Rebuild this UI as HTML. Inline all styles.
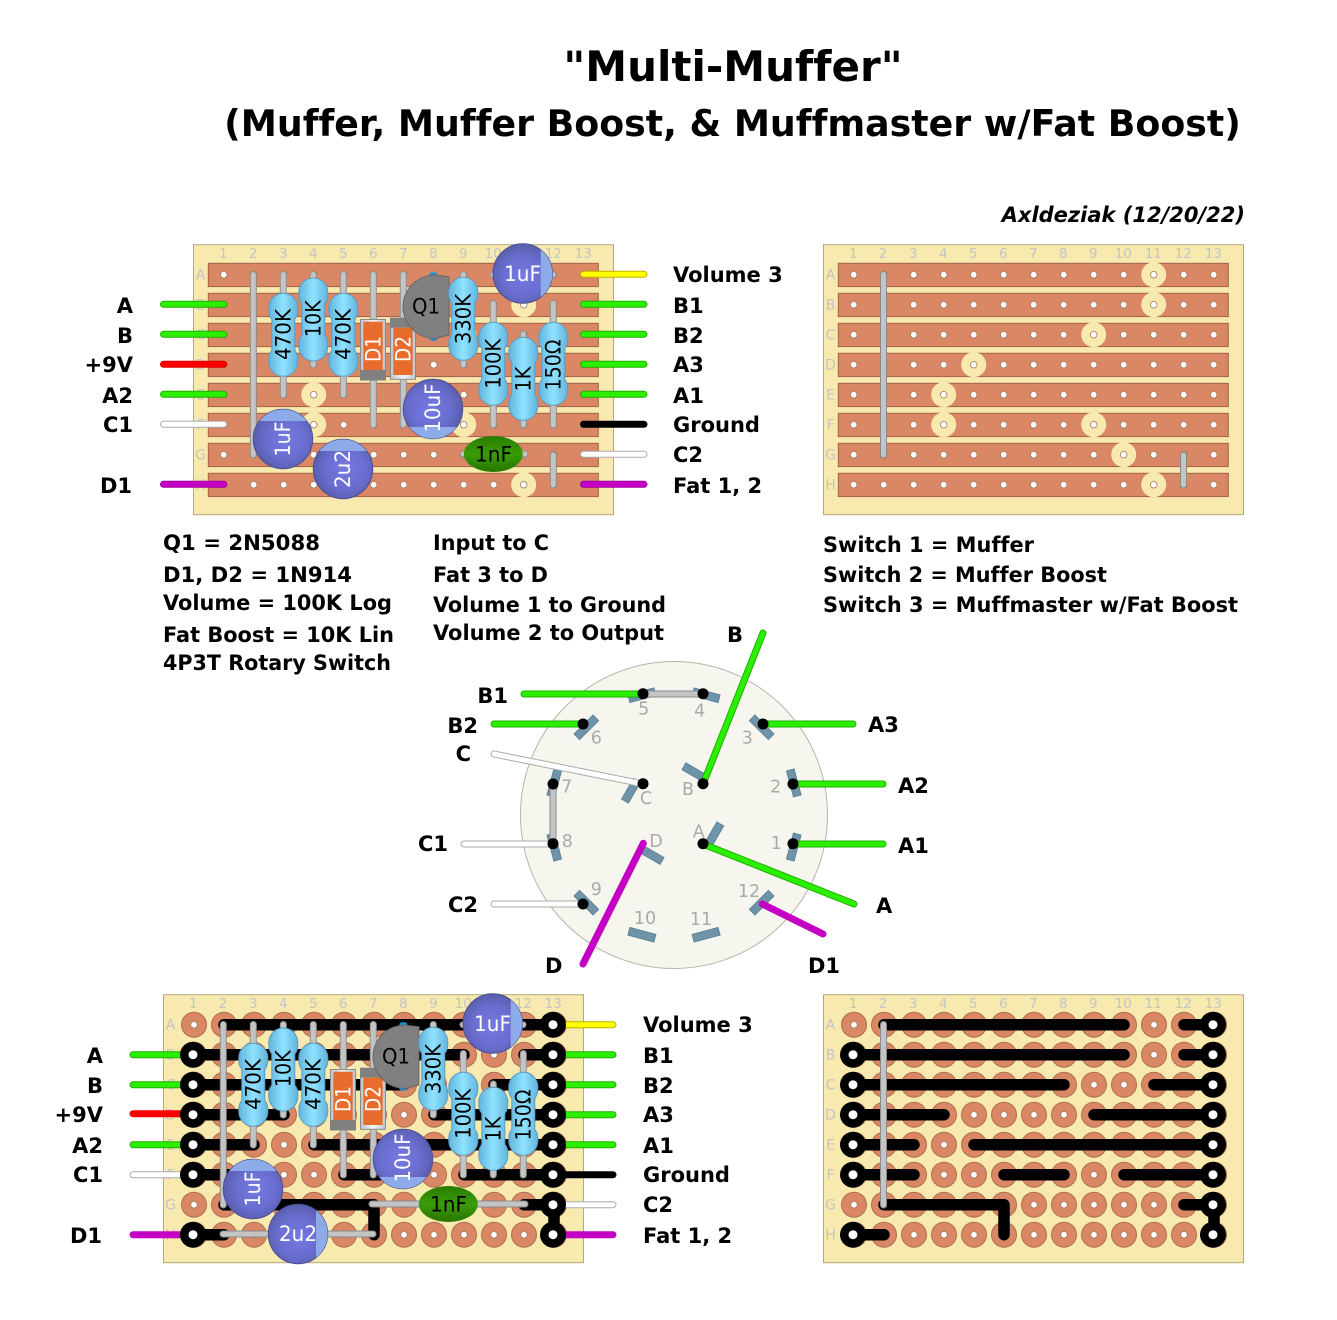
<!DOCTYPE html>
<html><head><meta charset="utf-8"><title>Multi-Muffer</title>
<style>
html,body{margin:0;padding:0;background:#fff}
svg{display:block}
text{font-family:"DejaVu Sans","Liberation Sans",sans-serif;font-variant-ligatures:none;font-feature-settings:"liga" 0,"clig" 0}
.b{font-weight:bold;font-size:21px;fill:#000}
.n{font-size:13.5px;fill:#c4c4c4}
.nr{font-size:14px;fill:#c4c4c4;text-anchor:middle}
.r{font-size:21px;fill:#000;text-anchor:middle}
.w{font-size:21px;fill:#fff;text-anchor:middle}
.s{font-size:17.5px;fill:#aaa;text-anchor:middle}
.e{text-anchor:end}
</style></head><body>
<svg width="1337" height="1320" viewBox="0 0 1337 1320">
<defs>
<linearGradient id="gr" x1="0" x2="1" y1="0" y2="0"><stop offset="0" stop-color="#62b4dc"/><stop offset=".5" stop-color="#90e2ff"/><stop offset="1" stop-color="#62b4dc"/></linearGradient>
<radialGradient id="gc" cx=".5" cy=".55" r=".55"><stop offset="0" stop-color="#7579e2"/><stop offset=".6" stop-color="#6a6ed0"/><stop offset="1" stop-color="#5a5eae"/></radialGradient>
<linearGradient id="gn" x1="0" x2="0" y1="0" y2="1"><stop offset="0" stop-color="#2a7c00"/><stop offset=".5" stop-color="#3a9c08"/><stop offset="1" stop-color="#287400"/></linearGradient>
<linearGradient id="gd" x1="0" x2="1" y1="0" y2="0"><stop offset="0" stop-color="#bcc4d0"/><stop offset=".5" stop-color="#f4f6f8"/><stop offset="1" stop-color="#bcc4d0"/></linearGradient>
<path id="res" d="M-11.5,26C-14.5,22-14.5,20-14.5,14.5A14.5,14.5 0 0 1 14.5,14.5C14.5,20 14.5,22 11.5,26L11.5,57C14.5,61 14.5,63 14.5,68.5A14.5,14.5 0 0 1-14.5,68.5C-14.5,63-14.5,61-11.5,57Z" fill="url(#gr)" stroke="#5b9cc4" stroke-width="1"/>
<g id="cap"><circle r="29.7" fill="url(#gc)" stroke="#4d4f92" stroke-width="1"/><path d="M18,-23.6A29.7,29.7 0 0 1 18,23.6Z" fill="#8cabe8"/></g>
<g id="hrow"><circle cx="0" r="3.3" /><circle cx="30" r="3.3"/><circle cx="60" r="3.3"/><circle cx="90" r="3.3"/><circle cx="120" r="3.3"/><circle cx="150" r="3.3"/><circle cx="180" r="3.3"/><circle cx="210" r="3.3"/><circle cx="240" r="3.3"/><circle cx="270" r="3.3"/><circle cx="300" r="3.3"/><circle cx="330" r="3.3"/><circle cx="360" r="3.3"/></g>
<g id="holes" fill="#fff" stroke="#a27a64" stroke-width=".8"><use href="#hrow"/><use href="#hrow" y="30"/><use href="#hrow" y="60"/><use href="#hrow" y="90"/><use href="#hrow" y="120"/><use href="#hrow" y="150"/><use href="#hrow" y="180"/><use href="#hrow" y="210"/></g>
<g id="ringrow"><circle cx="0" r="12.5"/><circle cx="30" r="12.5"/><circle cx="60" r="12.5"/><circle cx="90" r="12.5"/><circle cx="120" r="12.5"/><circle cx="150" r="12.5"/><circle cx="180" r="12.5"/><circle cx="210" r="12.5"/><circle cx="240" r="12.5"/><circle cx="270" r="12.5"/><circle cx="300" r="12.5"/><circle cx="330" r="12.5"/><circle cx="360" r="12.5"/></g>
<g id="rings" fill="#d98764" stroke="#ae6f52" stroke-width="1"><use href="#ringrow"/><use href="#ringrow" y="30"/><use href="#ringrow" y="60"/><use href="#ringrow" y="90"/><use href="#ringrow" y="120"/><use href="#ringrow" y="150"/><use href="#ringrow" y="180"/><use href="#ringrow" y="210"/></g>
<g id="strips" fill="#d98764" stroke="#a4634a" stroke-width="1"><rect x="-15.4" y="-11.4" width="390" height="23.3"/><rect x="-15.4" y="18.6" width="390" height="23.3"/><rect x="-15.4" y="48.6" width="390" height="23.3"/><rect x="-15.4" y="78.6" width="390" height="23.3"/><rect x="-15.4" y="108.6" width="390" height="23.3"/><rect x="-15.4" y="138.6" width="390" height="23.3"/><rect x="-15.4" y="168.6" width="390" height="23.3"/><rect x="-15.4" y="198.6" width="390" height="23.3"/></g>
<g id="cuts"><circle cx="300" cy="0" r="12.5"/><circle cx="300" cy="30" r="12.5"/><circle cx="240" cy="60" r="12.5"/><circle cx="120" cy="90" r="12.5"/><circle cx="90" cy="120" r="12.5"/><circle cx="90" cy="150" r="12.5"/><circle cx="240" cy="150" r="12.5"/><circle cx="270" cy="180" r="12.5"/><circle cx="300" cy="210" r="12.5"/></g>
<path id="tr" fill="none" stroke="#000" stroke-width="11.5" stroke-linecap="round" stroke-linejoin="round" d="M30,0H270M330,0H360M0,30H270M330,30H360M0,60H210M300,60H360M0,90H90M240,90H360M0,120H60M120,120H360M0,150H60M150,150H210M270,150H360M330,180H360V210M0,210H30"/>
<g id="term" fill="#000"><circle cx="-1" cy="30" r="13"/><circle cx="-1" cy="60" r="13"/><circle cx="-1" cy="90" r="13"/><circle cx="-1" cy="120" r="13"/><circle cx="-1" cy="150" r="13"/><circle cx="-1" cy="210" r="13"/><circle cx="359" cy="0" r="13"/><circle cx="359" cy="30" r="13"/><circle cx="359" cy="60" r="13"/><circle cx="359" cy="90" r="13"/><circle cx="359" cy="120" r="13"/><circle cx="359" cy="150" r="13"/><circle cx="359" cy="180" r="13"/><circle cx="359" cy="210" r="13"/>
<g fill="#fff"><circle cx="-1" cy="30" r="4.5"/><circle cx="-1" cy="60" r="4.5"/><circle cx="-1" cy="90" r="4.5"/><circle cx="-1" cy="120" r="4.5"/><circle cx="-1" cy="150" r="4.5"/><circle cx="-1" cy="210" r="4.5"/><circle cx="359" cy="0" r="4.5"/><circle cx="359" cy="30" r="4.5"/><circle cx="359" cy="60" r="4.5"/><circle cx="359" cy="90" r="4.5"/><circle cx="359" cy="120" r="4.5"/><circle cx="359" cy="150" r="4.5"/><circle cx="359" cy="180" r="4.5"/><circle cx="359" cy="210" r="4.5"/></g></g>
<path id="leads" fill="none" d="M283.3,274.5V395M313.3,274.5V365M343.3,274.5V395M373.3,274.5V425M403.3,274.5V425M463.3,274.5V365M493.3,303.5V425M523.3,334V425M553.3,303.5V425M493,274.7H553"/>
<g id="parts">
<g fill="none" stroke-linecap="round"><use href="#leads" stroke="#8f8f8f" stroke-width="7"/><use href="#leads" stroke="#c4c4c4" stroke-width="5"/></g>
<use href="#res" x="283.3" y="293.3"/><use href="#res" x="313.3" y="278"/><use href="#res" x="343.3" y="293.3"/>
<rect x="360.5" y="319.5" width="25" height="60.5" fill="url(#gd)" stroke="#8a8a8a"/><rect x="363.3" y="321.7" width="19.4" height="48.3" fill="#e86d2c"/><rect x="360" y="370" width="26" height="10.5" fill="#808080"/>
<rect x="390.5" y="318.5" width="25" height="60.8" fill="url(#gd)" stroke="#8a8a8a"/><rect x="390" y="317.7" width="26" height="10" fill="#808080"/><rect x="393.3" y="327.7" width="19.4" height="47.3" fill="#e86d2c"/>
<ellipse cx="433.3" cy="274.5" rx="4" ry="2.4" fill="#2090c8"/><ellipse cx="433.3" cy="338.6" rx="4" ry="2.4" fill="#2090c8"/>
<path d="M449,276.7L437,275.4A31.5,31.5 0 1 0 437,338.2L449,335Z" fill="#808080" stroke="#666" stroke-width="1"/>
<use href="#res" x="463.3" y="277.3"/><use href="#res" x="493.3" y="322.3"/><use href="#res" x="523.3" y="337.3"/><use href="#res" x="553.3" y="322.3"/>
<g transform="translate(522.7,273.5)"><use href="#cap"/></g>
<g transform="translate(433,409) rotate(90)"><use href="#cap"/></g>
<g transform="translate(283,439) rotate(-90)"><use href="#cap"/></g>
</g>
<g id="gnums"><text class="n" x="223.3" y="258" text-anchor="middle">1</text><text class="n" x="253" y="258" text-anchor="middle">2</text><text class="n" x="283.3" y="258" text-anchor="middle">3</text><text class="n" x="313.3" y="258" text-anchor="middle">4</text><text class="n" x="343.3" y="258" text-anchor="middle">5</text><text class="n" x="373.3" y="258" text-anchor="middle">6</text><text class="n" x="403.3" y="258" text-anchor="middle">7</text><text class="n" x="433.3" y="258" text-anchor="middle">8</text><text class="n" x="463.3" y="258" text-anchor="middle">9</text><text class="n" x="493.3" y="258" text-anchor="middle">10</text><text class="n" x="523.3" y="258" text-anchor="middle">11</text><text class="n" x="553.3" y="258" text-anchor="middle">12</text><text class="n" x="583.3" y="258" text-anchor="middle">13</text>
<text class="nr" x="200.5" y="279.5">A</text><text class="nr" x="200.5" y="309.5">B</text><text class="nr" x="200.5" y="339.5">C</text><text class="nr" x="200.5" y="369.5">D</text><text class="nr" x="200.5" y="399.5">E</text><text class="nr" x="200.5" y="429.5">F</text><text class="nr" x="200.5" y="459.5">G</text><text class="nr" x="200.5" y="489.5">H</text></g>
</defs>
<rect width="1337" height="1320" fill="#fff"/>

<!-- titles -->
<text x="733" y="81" text-anchor="middle" font-weight="bold" font-size="42">"Multi-Muffer"</text>
<text x="732.5" y="136" text-anchor="middle" font-weight="bold" font-size="36.3">(Muffer, Muffer Boost, &amp; Muffmaster w/Fat Boost)</text>
<text x="1245" y="222" text-anchor="end" font-weight="bold" font-style="italic" font-size="21">Axldeziak (12/20/22)</text>

<!-- TOP LEFT -->
<rect x="193.5" y="244.7" width="420" height="270" fill="#f8e9ae" stroke="#b3a97a" stroke-width="1"/>
<use href="#gnums"/>
<g transform="translate(223.7,274.7)"><use href="#strips"/><use href="#cuts" fill="#f8e9ae"/><use href="#holes"/></g>
<g fill="none" stroke-linecap="round">
<path stroke="#1fb000" stroke-width="7" d="M163.5,304.3H223.8M163.5,334.3H223.8M163.5,394.3H223.8M583.5,304.3H644M583.5,334.3H644M583.5,364.3H644M583.5,394.3H644"/>
<path stroke="#2af000" stroke-width="5" d="M163.5,304.3H223.8M163.5,334.3H223.8M163.5,394.3H223.8M583.5,304.3H644M583.5,334.3H644M583.5,364.3H644M583.5,394.3H644"/>
<path stroke="#e00000" stroke-width="7" d="M163.5,364.3H223.8"/><path stroke="#f00" stroke-width="5" d="M163.5,364.3H223.8"/>
<path stroke="#aaa" stroke-width="7" d="M163.5,424.3H223.8M583.5,454.3H644"/><path stroke="#fff" stroke-width="5" d="M163.5,424.3H223.8M583.5,454.3H644"/>
<path stroke="#a000a0" stroke-width="7" d="M163.5,484.3H223.8M583.5,484.3H644"/><path stroke="#c400c4" stroke-width="5" d="M163.5,484.3H223.8M583.5,484.3H644"/>
<path stroke="#c0b000" stroke-width="7" d="M583.5,274.3H644"/><path stroke="#ff0" stroke-width="5" d="M583.5,274.3H644"/>
<path stroke="#000" stroke-width="7" d="M583.5,424.3H644"/>
<path stroke="#8a8a8a" stroke-width="7" d="M253.3,274.5V455M553.3,455V485M463,454H525"/>
<path stroke="#c4c4c4" stroke-width="5" d="M253.3,274.5V455M553.3,455V485M463,454H525"/>
</g>
<use href="#parts"/>
<g transform="translate(343,469) rotate(-90)"><use href="#cap"/></g>
<ellipse cx="493.3" cy="454" rx="29.5" ry="18" fill="url(#gn)"/>
<text class="r" transform="translate(283.3,334.5) rotate(-90)" dy="7" textLength="51" lengthAdjust="spacingAndGlyphs">470K</text>
<text class="r" transform="translate(313.3,318.7) rotate(-90)" dy="7" textLength="37" lengthAdjust="spacingAndGlyphs">10K</text>
<text class="r" transform="translate(343.3,334.5) rotate(-90)" dy="7" textLength="51" lengthAdjust="spacingAndGlyphs">470K</text>
<text class="w" transform="translate(373.3,349) rotate(-90)" dy="7" textLength="26" lengthAdjust="spacingAndGlyphs">D1</text>
<text class="w" transform="translate(403.3,349) rotate(-90)" dy="7" textLength="26" lengthAdjust="spacingAndGlyphs">D2</text>
<text class="r" x="426" y="313.3" textLength="28" lengthAdjust="spacingAndGlyphs">Q1</text>
<text class="r" transform="translate(463.3,319) rotate(-90)" dy="7" textLength="50" lengthAdjust="spacingAndGlyphs">330K</text>
<text class="r" transform="translate(493.3,363.8) rotate(-90)" dy="7" textLength="50" lengthAdjust="spacingAndGlyphs">100K</text>
<text class="r" transform="translate(523.3,379) rotate(-90)" dy="7" textLength="25" lengthAdjust="spacingAndGlyphs">1K</text>
<text class="r" transform="translate(553.3,365) rotate(-90)" dy="7" textLength="51" lengthAdjust="spacingAndGlyphs">150Ω</text>
<text class="w" x="522.5" y="281" textLength="37" lengthAdjust="spacingAndGlyphs">1uF</text>
<text class="w" transform="translate(433,408) rotate(-90)" dy="7" textLength="49" lengthAdjust="spacingAndGlyphs">10uF</text>
<text class="w" transform="translate(283,439) rotate(-90)" dy="7" textLength="35" lengthAdjust="spacingAndGlyphs">1uF</text>
<text class="w" transform="translate(343,469) rotate(-90)" dy="7" textLength="38" lengthAdjust="spacingAndGlyphs">2u2</text>
<text class="r" x="493.5" y="461.5" textLength="37" lengthAdjust="spacingAndGlyphs">1nF</text>

<g class="lab">
<text class="b e" x="133" y="313">A</text><text class="b e" x="133" y="343">B</text><text class="b e" x="133" y="372">+9V</text><text class="b e" x="133" y="403">A2</text><text class="b e" x="133" y="432">C1</text><text class="b e" x="132" y="493">D1</text>
<text class="b" x="673" y="282">Volume 3</text><text class="b" x="673" y="313">B1</text><text class="b" x="673" y="343">B2</text><text class="b" x="673" y="372">A3</text><text class="b" x="673" y="403">A1</text><text class="b" x="673" y="432">Ground</text><text class="b" x="673" y="462">C2</text><text class="b" x="673" y="493">Fat 1, 2</text>
</g>

<!-- TOP RIGHT -->
<rect x="823.5" y="244.7" width="420" height="270" fill="#f8e9ae" stroke="#b3a97a" stroke-width="1"/>
<g transform="translate(630,0)"><use href="#gnums"/></g>
<g transform="translate(853.7,274.7)"><use href="#strips"/><use href="#cuts" fill="#f8e9ae"/><use href="#holes"/></g>
<g fill="none" stroke-linecap="round"><path stroke="#8a8a8a" stroke-width="7" d="M883.5,274.5V455M1183.5,455V485"/><path stroke="#c4c4c4" stroke-width="5" d="M883.5,274.5V455M1183.5,455V485"/></g>

<!-- notes -->
<text class="b" x="163" y="550" textLength="157" lengthAdjust="spacingAndGlyphs">Q1 = 2N5088</text><text class="b" x="163" y="582" textLength="189" lengthAdjust="spacingAndGlyphs">D1, D2 = 1N914</text><text class="b" x="163" y="610" textLength="229" lengthAdjust="spacingAndGlyphs">Volume = 100K Log</text><text class="b" x="163" y="642" textLength="231" lengthAdjust="spacingAndGlyphs">Fat Boost = 10K Lin</text><text class="b" x="163" y="670" textLength="228" lengthAdjust="spacingAndGlyphs">4P3T Rotary Switch</text>
<text class="b" x="433" y="550" textLength="116" lengthAdjust="spacingAndGlyphs">Input to C</text><text class="b" x="433" y="582" textLength="115" lengthAdjust="spacingAndGlyphs">Fat 3 to D</text><text class="b" x="433" y="612" textLength="233" lengthAdjust="spacingAndGlyphs">Volume 1 to Ground</text><text class="b" x="433" y="640" textLength="231" lengthAdjust="spacingAndGlyphs">Volume 2 to Output</text>
<text class="b" x="823" y="552" textLength="211" lengthAdjust="spacingAndGlyphs">Switch 1 = Muffer</text><text class="b" x="823" y="582" textLength="284" lengthAdjust="spacingAndGlyphs">Switch 2 = Muffer Boost</text><text class="b" x="823" y="612" textLength="415" lengthAdjust="spacingAndGlyphs">Switch 3 = Muffmaster w/Fat Boost</text>

<!-- ROTARY -->
<circle cx="674" cy="815" r="153.5" fill="#f6f5ee" stroke="#b5b5a8" stroke-width="1"/>
<g fill="#6f94a9" stroke="#557f96" stroke-width=".8" transform="translate(674,815)">
<rect transform="rotate(15) translate(124,0)" x="-4" y="-13.5" width="8" height="27"/><rect transform="rotate(-15) translate(124,0)" x="-4" y="-13.5" width="8" height="27"/><rect transform="rotate(-45) translate(124,0)" x="-4" y="-13.5" width="8" height="27"/><rect transform="rotate(-75) translate(124,0)" x="-4" y="-13.5" width="8" height="27"/><rect transform="rotate(-105) translate(124,0)" x="-4" y="-13.5" width="8" height="27"/><rect transform="rotate(-135) translate(124,0)" x="-4" y="-13.5" width="8" height="27"/><rect transform="rotate(-165) translate(124,0)" x="-4" y="-13.5" width="8" height="27"/><rect transform="rotate(165) translate(124,0)" x="-4" y="-13.5" width="8" height="27"/><rect transform="rotate(135) translate(124,0)" x="-4" y="-13.5" width="8" height="27"/><rect transform="rotate(105) translate(124,0)" x="-4" y="-13.5" width="8" height="27"/><rect transform="rotate(75) translate(124,0)" x="-4" y="-13.5" width="8" height="27"/><rect transform="rotate(45) translate(124,0)" x="-4" y="-13.5" width="8" height="27"/>
<rect transform="translate(40.3,19.3) rotate(30)" x="-4" y="-12" width="8" height="24"/><rect transform="translate(20.3,-42.7) rotate(30)" x="-12" y="-4" width="24" height="8"/><rect transform="translate(-43,-24.3) rotate(30)" x="-4" y="-12" width="8" height="24"/><rect transform="translate(-22.3,40) rotate(30)" x="-12" y="-4" width="24" height="8"/>
</g>
<g class="s-nums">
<text class="s" x="643.7" y="714.5">5</text><text class="s" x="699.7" y="716.5">4</text><text class="s" x="596.3" y="743.5">6</text><text class="s" x="747.3" y="743.5">3</text><text class="s" x="566.7" y="792.5">7</text><text class="s" x="775.7" y="792.5">2</text><text class="s" x="567.3" y="847">8</text><text class="s" x="776.3" y="849">1</text><text class="s" x="596.3" y="895">9</text><text class="s" x="749" y="897">12</text><text class="s" x="645" y="924">10</text><text class="s" x="701" y="925">11</text><text class="s" x="698.7" y="837.5">A</text><text class="s" x="688" y="795">B</text><text class="s" x="646" y="804">C</text><text class="s" x="656" y="847">D</text>
</g>
<g fill="none" stroke-linecap="round">
<path stroke="#1fb000" stroke-width="7" d="M524,694H643M494,724H583M763,724H853M793,784H883M793,844H883M703,784L763,633M703,844L854,904"/>
<path stroke="#2af000" stroke-width="5" d="M524,694H643M494,724H583M763,724H853M793,784H883M793,844H883M703,784L763,633M703,844L854,904"/>
<path stroke="#aaa" stroke-width="7" d="M494,754L643,784M464,844H553M494,904H583"/>
<path stroke="#fff" stroke-width="5" d="M494,754L643,784M464,844H553M494,904H583"/>
<path stroke="#c400c4" stroke-width="7" d="M643.3,843.3L583,964M762.3,904L823,934"/>
<path stroke="#8a8a8a" stroke-width="7" d="M643,694H703M553,784V844"/>
<path stroke="#c4c4c4" stroke-width="5" d="M643,694H703M553,784V844"/>
</g>
<g fill="#000"><circle cx="643" cy="693.7" r="5.5"/><circle cx="703" cy="693.7" r="5.5"/><circle cx="583" cy="724" r="5.5"/><circle cx="763" cy="724" r="5.5"/><circle cx="553" cy="784" r="5.5"/><circle cx="553" cy="843.7" r="5.5"/><circle cx="583" cy="904" r="5.5"/><circle cx="793" cy="784" r="5.5"/><circle cx="793" cy="843.7" r="5.5"/><circle cx="703" cy="843.7" r="5.5"/><circle cx="703" cy="783.7" r="5.5"/><circle cx="643" cy="783.7" r="5.5"/></g>
<text class="b e" x="508" y="703">B1</text><text class="b e" x="478" y="733">B2</text><text class="b e" x="471" y="761">C</text><text class="b e" x="448" y="851">C1</text><text class="b e" x="478" y="912">C2</text>
<text class="b" x="868" y="732">A3</text><text class="b" x="898" y="793">A2</text><text class="b" x="898" y="853">A1</text><text class="b" x="727" y="642">B</text><text class="b" x="876" y="913">A</text><text class="b" x="545" y="973">D</text><text class="b" x="808" y="973">D1</text>

<!-- BOTTOM LEFT -->
<rect x="163.5" y="994.7" width="420" height="268" fill="#f8e9ae" stroke="#b3a97a" stroke-width="1"/>
<g transform="translate(-30,750)"><use href="#gnums"/></g>
<g transform="translate(194,1024.7)"><use href="#rings"/><use href="#holes"/>
<g fill="none" stroke-linecap="round">
<path stroke="#1fb000" stroke-width="7" d="M-61,30H0M-61,60H0M-61,120H0"/><path stroke="#2af000" stroke-width="5" d="M-61,30H0M-61,60H0M-61,120H0"/>
<path stroke="#f00" stroke-width="7" d="M-61,89H0"/>
<path stroke="#aaa" stroke-width="7" d="M-61,150H0M359,180H419"/><path stroke="#fff" stroke-width="5" d="M-61,150H0M359,180H419"/>
<path stroke="#c400c4" stroke-width="7" d="M-61,210H0M359,210H419"/>
<path stroke="#1fb000" stroke-width="7" d="M359,30H419M359,60H419M359,90H419M359,120H419"/><path stroke="#2af000" stroke-width="5" d="M359,30H419M359,60H419M359,90H419M359,120H419"/>
<path stroke="#c0b000" stroke-width="7" d="M359,0H419"/><path stroke="#ff0" stroke-width="5" d="M359,0H419"/>
<path stroke="#000" stroke-width="7" d="M359,150H419"/>
</g>
<use href="#tr"/>
<path fill="none" stroke="#000" stroke-width="11.5" stroke-linecap="round" stroke-linejoin="round" d="M30,180H180V210"/>
<use href="#term"/></g>
<g fill="none" stroke-linecap="round"><path stroke="#8a8a8a" stroke-width="7" d="M223.3,1024.5V1205M223,1234H373M372,1204H525"/><path stroke="#c4c4c4" stroke-width="5" d="M223.3,1024.5V1205M223,1234H373M372,1204H525"/></g>
<g transform="translate(-30,750)">
<use href="#parts"/>
<g transform="translate(328,484)"><use href="#cap"/></g>
<ellipse cx="478.3" cy="454" rx="29.5" ry="18" fill="url(#gn)"/>
<text class="r" transform="translate(283.3,334.5) rotate(-90)" dy="7" textLength="51" lengthAdjust="spacingAndGlyphs">470K</text>
<text class="r" transform="translate(313.3,318.7) rotate(-90)" dy="7" textLength="37" lengthAdjust="spacingAndGlyphs">10K</text>
<text class="r" transform="translate(343.3,334.5) rotate(-90)" dy="7" textLength="51" lengthAdjust="spacingAndGlyphs">470K</text>
<text class="w" transform="translate(373.3,349) rotate(-90)" dy="7" textLength="26" lengthAdjust="spacingAndGlyphs">D1</text>
<text class="w" transform="translate(403.3,349) rotate(-90)" dy="7" textLength="26" lengthAdjust="spacingAndGlyphs">D2</text>
<text class="r" x="426" y="313.3" textLength="28" lengthAdjust="spacingAndGlyphs">Q1</text>
<text class="r" transform="translate(463.3,319) rotate(-90)" dy="7" textLength="50" lengthAdjust="spacingAndGlyphs">330K</text>
<text class="r" transform="translate(493.3,363.8) rotate(-90)" dy="7" textLength="50" lengthAdjust="spacingAndGlyphs">100K</text>
<text class="r" transform="translate(523.3,379) rotate(-90)" dy="7" textLength="25" lengthAdjust="spacingAndGlyphs">1K</text>
<text class="r" transform="translate(553.3,365) rotate(-90)" dy="7" textLength="51" lengthAdjust="spacingAndGlyphs">150Ω</text>
<text class="w" x="522.5" y="281" textLength="37" lengthAdjust="spacingAndGlyphs">1uF</text>
<text class="w" transform="translate(433,408) rotate(-90)" dy="7" textLength="49" lengthAdjust="spacingAndGlyphs">10uF</text>
<text class="w" transform="translate(283,439) rotate(-90)" dy="7" textLength="35" lengthAdjust="spacingAndGlyphs">1uF</text>
<text class="w" x="328" y="491" textLength="38" lengthAdjust="spacingAndGlyphs">2u2</text>
<text class="r" x="478.5" y="461.5" textLength="37" lengthAdjust="spacingAndGlyphs">1nF</text>
<text class="b e" x="133" y="313">A</text><text class="b e" x="133" y="343">B</text><text class="b e" x="133" y="372">+9V</text><text class="b e" x="133" y="403">A2</text><text class="b e" x="133" y="432">C1</text><text class="b e" x="132" y="493">D1</text>
<text class="b" x="673" y="282">Volume 3</text><text class="b" x="673" y="313">B1</text><text class="b" x="673" y="343">B2</text><text class="b" x="673" y="372">A3</text><text class="b" x="673" y="403">A1</text><text class="b" x="673" y="432">Ground</text><text class="b" x="673" y="462">C2</text><text class="b" x="673" y="493">Fat 1, 2</text>
</g>

<!-- BOTTOM RIGHT -->
<rect x="823.5" y="994.7" width="420" height="268" fill="#f8e9ae" stroke="#b3a97a" stroke-width="1"/>
<g transform="translate(630,750)"><use href="#gnums"/></g>
<g transform="translate(854,1024.7)"><use href="#rings"/><use href="#holes"/><use href="#tr"/>
<path fill="none" stroke="#000" stroke-width="11.5" stroke-linecap="round" stroke-linejoin="round" d="M30,180H150V210"/>
<use href="#term"/></g>
<g fill="none" stroke-linecap="round"><path stroke="#8a8a8a" stroke-width="7" d="M883.5,1024.5V1205"/><path stroke="#c4c4c4" stroke-width="5" d="M883.5,1024.5V1205"/></g>
</svg>
</body></html>
